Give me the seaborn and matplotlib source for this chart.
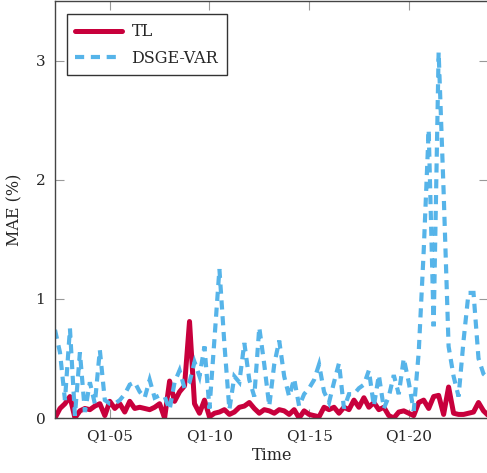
import numpy as np
import pandas as pd
import seaborn as sns
import matplotlib
matplotlib.use("Agg")
import matplotlib.pyplot as plt

# quarterly forecast errors, 2002Q2 .. 2024Q1
start_quarter = "2002Q2"
tl_mae = [
    0.00, 0.08, 0.12, 0.18, 0.00, 0.06, 0.08, 0.07, 0.10, 0.12,
    0.02, 0.14, 0.08, 0.12, 0.05, 0.14, 0.08, 0.09, 0.08, 0.07,
    0.09, 0.12, 0.00, 0.31, 0.14, 0.22, 0.27, 0.81, 0.12, 0.04,
    0.15, 0.01, 0.04, 0.05, 0.07, 0.03, 0.05, 0.09, 0.10, 0.13,
    0.08, 0.04, 0.07, 0.06, 0.04, 0.07, 0.06, 0.03, 0.07, 0.00,
    0.06, 0.03, 0.02, 0.01, 0.09, 0.07, 0.09, 0.04, 0.09, 0.07,
    0.15, 0.09, 0.17, 0.09, 0.13, 0.07, 0.09, 0.02, 0.00, 0.05,
    0.06, 0.04, 0.02, 0.13, 0.15, 0.08, 0.18, 0.19, 0.03, 0.26,
    0.04, 0.03, 0.03, 0.04, 0.05, 0.13, 0.06, 0.02,
]
dsge_var_mae = [
    0.74, 0.55, 0.15, 0.75, 0.02, 0.55, 0.05, 0.30, 0.12, 0.57,
    0.15, 0.12, 0.12, 0.15, 0.20, 0.28, 0.30, 0.22, 0.17, 0.32,
    0.17, 0.19, 0.18, 0.07, 0.30, 0.40, 0.25, 0.30, 0.47, 0.35,
    0.60, 0.08, 0.66, 1.25, 0.62, 0.07, 0.35, 0.30, 0.63, 0.32,
    0.18, 0.76, 0.45, 0.10, 0.45, 0.65, 0.35, 0.18, 0.33, 0.10,
    0.20, 0.25, 0.32, 0.45, 0.22, 0.13, 0.30, 0.46, 0.08, 0.20,
    0.20, 0.25, 0.28, 0.40, 0.10, 0.36, 0.08, 0.18, 0.36, 0.20,
    0.50, 0.30, 0.06, 0.55, 1.40, 2.42, 0.77, 3.07, 1.90, 0.60,
    0.35, 0.18, 0.65, 1.05, 1.05, 0.50, 0.37, 0.33,
]
tick_years = [2005, 2010, 2015, 2020]
tick_labels = ["Q1-05", "Q1-10", "Q1-15", "Q1-20"]

quarters = pd.period_range(start_quarter, periods=len(tl_mae), freq="Q")
df = pd.DataFrame({
    "t": quarters.year + (quarters.quarter - 1) / 4,
    "TL": tl_mae,
    "DSGE-VAR": dsge_var_mae,
})

sns.set_theme(style="ticks")
plt.rcParams["font.family"] = ["DejaVu Serif"]

fig = plt.figure(figsize=(4.87, 4.73), dpi=100)
ax = fig.add_axes([55 / 487, 1 - 418 / 473, 1.003 - 55 / 487, 417 / 473])

sns.lineplot(data=df, x="t", y="TL", ax=ax, color="#C8003C", lw=3.6,
             solid_joinstyle="round", label="TL")
sns.lineplot(data=df, x="t", y="DSGE-VAR", ax=ax, color="#56B4E9", lw=3.0,
             ls=(0, (2.2, 1.6)), dash_joinstyle="miter", dash_capstyle="butt",
             label="DSGE-VAR")

ax.set_xlim(df["t"].iloc[0], df["t"].iloc[-1])
ax.set_ylim(0, 3.5)
ax.set_xticks(tick_years)
ax.set_xticklabels(tick_labels)
ax.set_yticks([0, 1, 2, 3])
ax.set_xlabel("Time", fontsize=11.5, labelpad=3)
ax.set_ylabel("MAE (%)", fontsize=11.5, labelpad=9)

for s in ax.spines.values():
    s.set_visible(True)
    s.set_color("#444444")
    s.set_linewidth(1.0)
ax.tick_params(direction="in", length=6.5, width=0.8, color="#999999",
               labelsize=11, top=True, right=True)
ax.tick_params(axis="x", pad=8)
ax.tick_params(axis="y", pad=7)

leg = ax.legend(loc="upper left", bbox_to_anchor=(0.027, 0.968), fontsize=11.5,
                frameon=True, fancybox=False, framealpha=1, edgecolor="#333333",
                handlelength=2.9, handletextpad=0.6, labelspacing=0.6,
                borderpad=0.55, borderaxespad=0)
leg.get_frame().set_linewidth(1.0)

fig.savefig("out.png", dpi=100)
